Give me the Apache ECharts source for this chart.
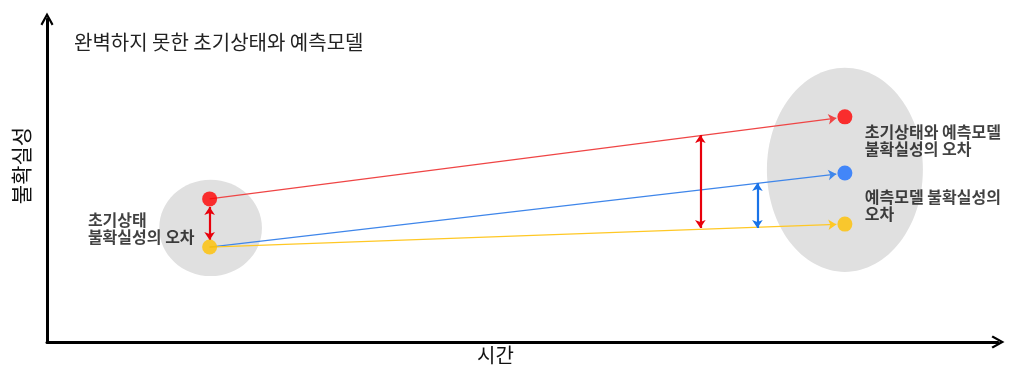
<!DOCTYPE html>
<html>
<head>
<meta charset="utf-8">
<script src="https://cdn.jsdelivr.net/npm/echarts@6/dist/echarts.min.js"></script>
<style>
  html, body { margin: 0; padding: 0; background: #fff; }
  #chart { width: 1020px; height: 367px; }
</style>
</head>
<body>
<div id="chart"></div>
<script>
// 시간 축 위치 (0~100)
var timeStart = 17.1
var timeEnd = 83.9
var timeTip = 83.0
// 궤적: 빨강(초기상태+모델), 파랑(모델), 노랑(참값)
var trajNames = ['red', 'blue', 'yellow']
var trajStart = [44.3, 29.4, 29.4]
var trajTip = [69.3, 52.0, 36.4]
var endDots = [69.7, 52.3, 36.5]
var startDots = [44.3, 29.4]
// 오차 화살표 [t, 위, 아래]
var errorBars = [[17.1, 41.8, 31.6], [68.7, 64.1, 35.3], [74.7, 49.2, 35.3]]
// 회색 타원 [t, 값, 반지름t, 반지름값]
var ellipses = [[17.2, 35.3, 5.4, 14.9], [83.9, 53.3, 8.2, 31.6]]
// 설명 문구
var noteTexts = ['초기상태\n불확실성의 오차', '초기상태와 예측모델\n불확실성의 오차', '예측모델 불확실성의\n오차']
var noteAnchors = [[4.3, 35.1], [86.0, 62.4], [86.0, 42.4]]

var lineColors = ['#ef4545', '#3f86ea', '#ffc825']
var dotColors = ['#ff0000', '#1a6fff', '#ffc000']
var barColors = ['#e8000b', '#e8000b', '#1a73e8']
var font = '"Noto Sans CJK KR", "Noto Sans", sans-serif'
var chevron = 'path://M5,0 L10,9 L8.6,10 L5,3.4 L1.4,10 L0,9 Z'

const chart = echarts.init(document.getElementById('chart'))

var trajData = []
for (let i = 0; i < trajNames.length; i++) {
  trajData.push({
    coords: [[timeStart, trajStart[i]], [timeTip, trajTip[i]]],
    lineStyle: { color: lineColors[i] }
  })
}
var barData = errorBars.map(function (b, i) {
  return { coords: [[b[0], b[1]], [b[0], b[2]]], lineStyle: { color: barColors[i] } }
})
var dotData = []
startDots.forEach(function (v, i) {
  dotData.push({ value: [timeStart, v], itemStyle: { color: dotColors[i === 0 ? 0 : 2] } })
})
endDots.forEach(function (v, i) {
  dotData.push({ value: [timeEnd, v], itemStyle: { color: dotColors[i] } })
})
var noteData = noteTexts.map(function (t, i) {
  return { value: noteAnchors[i], name: t }
})

var option = {
  animation: false,
  title: {
    text: '완벽하지 못한 초기상태와 예측모델',
    left: 69,
    top: 27,
    textStyle: { fontFamily: font, fontSize: 20, fontWeight: 'normal', color: '#222' }
  },
  grid: { left: 47, right: 22, top: 19, bottom: 25, outerBoundsMode: 'none' },
  xAxis: {
    type: 'value',
    min: 0,
    max: 100,
    name: '시간',
    nameLocation: 'middle',
    nameGap: 2,
    nameTextStyle: { fontFamily: font, fontSize: 20, lineHeight: 22, color: '#111', padding: [0, 54, 0, 0] },
    axisLine: { lineStyle: { color: '#000', width: 3 }, symbol: ['none', chevron], symbolSize: [13, 14] },
    axisTick: { show: false },
    axisLabel: { show: false },
    splitLine: { show: false }
  },
  yAxis: {
    type: 'value',
    min: 0,
    max: 100,
    name: '불확실성',
    nameLocation: 'middle',
    nameRotate: 90,
    nameGap: 15,
    nameTextStyle: { fontFamily: font, fontSize: 21, color: '#111', padding: [0, 0, 0, 30] },
    axisLine: { lineStyle: { color: '#000', width: 3 }, symbol: ['none', chevron], symbolSize: [13, 14] },
    axisTick: { show: false },
    axisLabel: { show: false },
    splitLine: { show: false }
  },
  series: [
    {
      type: 'custom',
      z: 1,
      data: ellipses,
      renderItem: function (params, api) {
        const c = api.coord([api.value(0), api.value(1)])
        const s = api.size([api.value(2), api.value(3)])
        return {
          type: 'ellipse',
          shape: { cx: c[0], cy: c[1], rx: s[0], ry: s[1] },
          style: { fill: '#e0e0e0' }
        }
      }
    },
    {
      type: 'lines',
      coordinateSystem: 'cartesian2d',
      z: 2,
      symbol: ['none', 'arrow'],
      symbolSize: 8,
      lineStyle: { width: 1.2, opacity: 1 },
      data: trajData
    },
    {
      type: 'lines',
      coordinateSystem: 'cartesian2d',
      z: 2,
      symbol: ['arrow', 'arrow'],
      symbolSize: 8,
      lineStyle: { width: 2.2, opacity: 1 },
      data: barData
    },
    {
      type: 'scatter',
      z: 3,
      symbolSize: 15,
      data: dotData
    },
    {
      type: 'scatter',
      z: 4,
      symbolSize: 0,
      silent: true,
      data: noteData,
      label: {
        show: true,
        position: [0, 0],
        align: 'left',
        verticalAlign: 'middle',
        formatter: '{b}',
        fontFamily: font,
        fontSize: 16,
        fontWeight: 'bold',
        lineHeight: 17,
        color: '#111'
      }
    }
  ]
}
chart.setOption(option)
</script>
</body>
</html>
